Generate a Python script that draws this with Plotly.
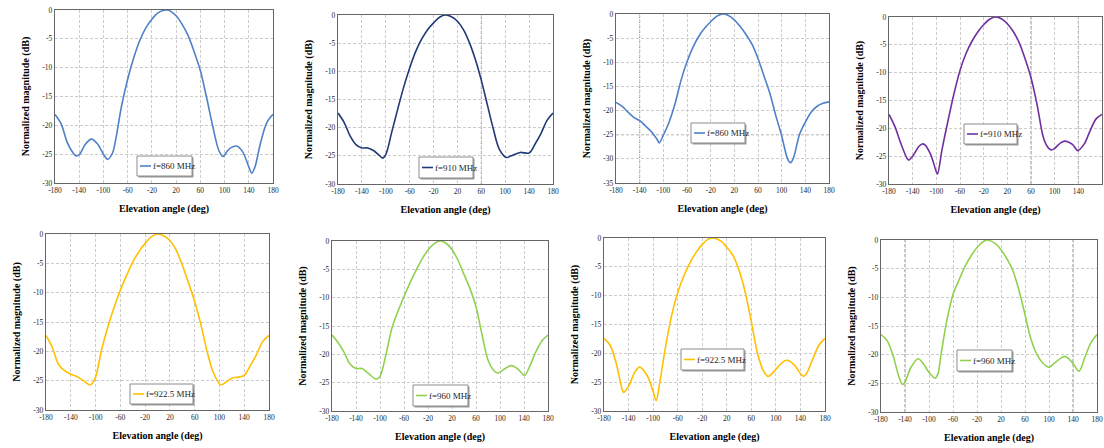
import plotly.graph_objects as go

W, H = 1104, 448

# Elevation-plane radiation patterns, normalized magnitude in dB
x_tick_vals = [-180, -140, -100, -60, -20, 20, 60, 100, 140, 180]
x_tick_text = ["-180", "-140", "-100", "-60", "-20", "20", "60", "100", "140", "180"]
y_tick_vals_30 = [0, -5, -10, -15, -20, -25, -30]
y_tick_text_30 = ["0", "-5", "-10", "-15", "-20", "-25", "-30"]
y_tick_vals_35 = [0, -5, -10, -15, -20, -25, -30, -35]
y_tick_text_35 = ["0", "-5", "-10", "-15", "-20", "-25", "-30", "-35"]

labels = ["f=860 MHz", "f=910 MHz", "f=860 MHz", "f=910 MHz",
          "f=922.5 MHz", "f=960 MHz", "f=922.5 MHz", "f=960 MHz"]
colors = ["#4F81C8", "#1F3A78", "#4F81C8", "#7030A0",
          "#FFC000", "#92D050", "#FFC000", "#92D050"]

angle_a = [-180, -170, -160, -150, -145, -140, -130, -120, -110, -100, -93, -85, -80, -70, -60, -50,
           -40, -30, -20, -10, 0, 5, 10, 20, 30, 40, 50, 60, 70, 80, 90, 97, 105, 110, 120, 130,
           140, 145, 150, 160, 170, 180]
mag_a = [-18.1, -19.7, -22.9, -24.8, -25.3, -25.1, -23.3, -22.4, -23.2, -25.0, -25.9, -24.8, -22.6,
         -16.6, -12.0, -8.3, -5.3, -3.1, -1.6, -0.5, -0.05, 0.0, -0.15, -1.0, -2.5, -4.5, -7.3,
         -10.5, -15.0, -19.9, -24.2, -25.4, -24.4, -23.9, -23.6, -24.6, -27.2, -28.3, -27.3,
         -22.8, -19.5, -18.1]

angle_b = [-180, -170, -160, -150, -140, -130, -120, -110, -105, -100, -90, -80, -70, -60, -50,
           -40, -30, -20, -10, 0, 10, 20, 30, 40, 50, 60, 70, 80, 90, 102, 110, 125, 140, 150,
           160, 170, 180]
mag_b = [-17.4, -19.0, -21.4, -23.0, -23.6, -23.6, -24.1, -25.0, -25.4, -24.8, -20.8, -16.7,
         -12.8, -9.4, -6.5, -4.3, -2.6, -1.4, -0.4, 0.0, -0.3, -1.1, -2.6, -4.9, -7.9, -11.6,
         -15.9, -20.2, -23.8, -25.3, -25.0, -24.4, -24.5, -22.9, -21.0, -18.7, -17.4]

angle_c = [-180, -170, -160, -150, -140, -130, -120, -110, -107, -100, -90, -80, -70, -60, -50,
           -40, -30, -20, -10, 0, 10, 20, 30, 40, 50, 60, 70, 80, 90, 100, 105, 110, 115, 120,
           130, 140, 150, 160, 170, 180]
mag_c = [-18.3, -19.1, -20.3, -21.4, -22.1, -23.2, -24.4, -26.1, -26.7, -25.1, -22.3, -18.5,
         -13.7, -9.9, -6.9, -4.6, -2.9, -1.6, -0.5, 0.0, -0.3, -1.2, -2.6, -4.3, -6.3, -9.2,
         -12.8, -16.4, -21.0, -25.2, -27.8, -30.0, -30.8, -29.8, -25.0, -22.4, -20.3, -19.1,
         -18.5, -18.2]

angle_d = [-180, -170, -160, -150, -147, -140, -130, -124, -120, -110, -100, -98, -90, -80, -70,
           -60, -50, -40, -30, -20, -10, 0, 10, 20, 30, 40, 50, 60, 70, 80, 85, 90, 95, 100,
           110, 117, 130, 139, 150, 160, 170, 180]
mag_d = [-17.5, -19.7, -22.7, -25.3, -25.7, -25.0, -23.3, -22.8, -22.9, -24.6, -27.8, -28.2,
         -23.6, -18.5, -13.7, -9.6, -6.6, -4.4, -2.7, -1.4, -0.4, 0.0, -0.3, -1.2, -2.6, -4.6,
         -7.5, -10.9, -15.6, -21.3, -22.8, -23.6, -23.9, -23.6, -22.6, -22.3, -22.9, -24.0,
         -22.8, -20.4, -18.3, -17.5]

angle_e = [-180, -170, -160, -150, -140, -130, -120, -108, -100, -94, -90, -80, -70, -60, -50,
           -40, -30, -20, -10, 0, 10, 20, 30, 40, 50, 60, 70, 80, 90, 102, 110, 120, 130, 140,
           150, 160, 170, 180]
mag_e = [-17.3, -19.3, -22.2, -23.3, -23.9, -24.3, -25.0, -25.7, -24.4, -21.6, -19.6, -15.8,
         -12.5, -9.6, -7.1, -4.8, -3.0, -1.6, -0.5, 0.0, -0.3, -1.1, -2.7, -5.3, -8.3, -11.5,
         -15.4, -20.0, -23.6, -25.7, -25.3, -24.6, -24.4, -24.1, -22.4, -20.5, -18.3, -17.3]

angle_f = [-180, -170, -160, -150, -140, -130, -120, -106, -100, -90, -80, -70, -60, -50, -40,
           -30, -20, -10, 0, 10, 20, 30, 40, 50, 60, 70, 80, 90, 96, 110, 119, 130, 141, 150,
           160, 170, 180]
mag_f = [-16.6, -17.9, -19.6, -21.7, -22.5, -22.5, -23.3, -24.4, -23.9, -20.0, -15.3, -12.4,
         -9.8, -7.4, -5.2, -3.2, -1.6, -0.5, 0.0, -0.4, -1.5, -3.4, -5.9, -8.4, -11.6, -16.5,
         -21.0, -22.9, -23.3, -22.4, -22.0, -22.6, -23.7, -22.0, -19.5, -17.6, -16.6]

angle_g = [-180, -170, -160, -150, -148, -140, -130, -122, -110, -100, -95, -90, -80, -70, -60,
           -50, -40, -30, -20, -10, -3, 10, 20, 30, 40, 50, 60, 70, 80, 87, 100, 110, 118, 130,
           140, 145, 150, 160, 170, 180]
mag_g = [-17.4, -18.6, -21.8, -26.4, -26.8, -25.7, -23.3, -22.4, -23.8, -26.6, -28.2, -25.6,
         -19.0, -13.5, -9.5, -6.6, -4.3, -2.5, -1.1, -0.2, 0.0, -0.5, -1.6, -3.0, -5.6, -9.4,
         -14.5, -20.0, -23.1, -24.0, -22.8, -21.6, -21.2, -22.0, -23.5, -24.0, -23.5, -21.0,
         -18.6, -17.4]

angle_h = [-180, -170, -160, -150, -144, -140, -130, -118, -110, -100, -90, -85, -80, -70, -60,
           -50, -40, -30, -20, -10, -3, 10, 20, 30, 40, 50, 60, 65, 70, 80, 90, 100, 110, 120, 127,
           140, 150, 160, 170, 180]
mag_h = [-16.5, -17.5, -20.1, -23.9, -25.2, -24.8, -22.2, -20.7, -21.5, -23.1, -24.1, -23.3,
         -20.0, -13.9, -9.5, -7.0, -4.6, -2.8, -1.3, -0.3, 0.0, -0.6, -1.7, -3.3, -5.4, -8.8,
         -13.0, -15.3, -17.3, -20.0, -21.5, -22.2, -21.4, -20.6, -20.3, -21.5, -22.9, -20.4,
         -17.9, -16.5]

angles = [angle_a, angle_b, angle_c, angle_d, angle_e, angle_f, angle_g, angle_h]
mags = [mag_a, mag_b, mag_c, mag_d, mag_e, mag_f, mag_g, mag_h]
y_floor = [-30, -30, -35, -30, -30, -30, -30, -30]

# Panel placement in pixels: plot area (left, right, top, bottom) and legend box (left, top, right, bottom)
plot_px = [(55, 273, 10, 183), (338, 553, 15, 184), (616, 829, 14, 183), (889, 1102, 17, 184),
           (46, 269, 234, 410), (332, 548, 241, 411), (604, 825, 238, 411), (881, 1097, 240, 412)]
legend_px = [(137, 156, 192, 176), (419, 157, 473, 178), (691, 123, 745, 143), (964, 124, 1017, 144),
             (130, 384, 193, 404), (413, 385, 468, 406), (681, 349, 744, 370), (957, 350, 1012, 371)]
# Emphasised (darker) reference grid lines per panel: ("x" or "y", value)
ref_lines = [[], [("x", 60)], [("x", -140), ("y", -25)], [("x", 60), ("x", 140)],
             [], [], [], [("x", -140), ("x", 140)]]

FONT = "Liberation Serif"
GRID_DASH = "3px,2px"


def px_x(p):
    return p / W


def px_y(p):
    return 1 - p / H


fig = go.Figure()
layout = dict(
    width=W, height=H, margin=dict(l=0, r=0, t=0, b=0),
    paper_bgcolor="white", plot_bgcolor="white", showlegend=False,
    font=dict(family=FONT, color="#262626"),
)
shapes = []
annotations = []

for i in range(8):
    n = "" if i == 0 else str(i + 1)
    xa, ya = "x" + n, "y" + n
    fig.add_trace(go.Scatter(
        x=angles[i], y=mags[i], mode="lines", name=labels[i],
        line=dict(color=colors[i], width=1.6, shape="spline", smoothing=0.9),
        xaxis=xa, yaxis=ya, hoverinfo="x+y",
    ))
    l, r, t, b = plot_px[i]
    if y_floor[i] == -35:
        yv, yt = y_tick_vals_35, y_tick_text_35
    else:
        yv, yt = y_tick_vals_30, y_tick_text_30
    layout["xaxis" + n] = dict(
        domain=[px_x(l), px_x(r)], anchor=ya, range=[-180, 180],
        tickvals=x_tick_vals, ticktext=x_tick_text, tickfont=dict(size=7.5, family=FONT),
        showgrid=True, gridcolor="#CCCCCC", griddash=GRID_DASH, gridwidth=1,
        showline=True, mirror=True, linecolor="#666666", linewidth=1.4,
        zeroline=False, ticks="", automargin=False,
        title=dict(text="<b>Elevation angle (deg)</b>", font=dict(size=10, family=FONT, color="black"),
                   standoff=10),
    )
    layout["yaxis" + n] = dict(
        domain=[px_y(b), px_y(t)], anchor=xa, range=[y_floor[i], 0],
        tickvals=yv, ticktext=yt, tickfont=dict(size=7.5, family=FONT),
        showgrid=True, gridcolor="#CCCCCC", griddash=GRID_DASH, gridwidth=1,
        showline=True, mirror=True, linecolor="#666666", linewidth=1.4,
        zeroline=False, ticks="", automargin=False,
        title=dict(text="<b>Normalized magnitude (dB)</b>", font=dict(size=10, family=FONT, color="black"),
                   standoff=10),
    )
    for kind, val in ref_lines[i]:
        if kind == "x":
            shapes.append(dict(type="line", xref=xa, yref=ya + " domain", x0=val, x1=val, y0=0, y1=1,
                               line=dict(color="#8C8C8C", width=1, dash=GRID_DASH), layer="below"))
        else:
            shapes.append(dict(type="line", xref=xa + " domain", yref=ya, x0=0, x1=1, y0=val, y1=val,
                               line=dict(color="#8C8C8C", width=1, dash=GRID_DASH), layer="below"))

    # Legend box with line sample and label
    bx0, by0, bx1, by1 = legend_px[i]
    shapes.append(dict(type="rect", xref="paper", yref="paper",
                       x0=px_x(bx0 + 1.5), x1=px_x(bx1 + 1.5), y0=px_y(by1 + 1.5), y1=px_y(by0 + 1.5),
                       line=dict(width=0), fillcolor="#9A9A9A", layer="above"))
    shapes.append(dict(type="rect", xref="paper", yref="paper",
                       x0=px_x(bx0), x1=px_x(bx1), y0=px_y(by1), y1=px_y(by0),
                       line=dict(color="#8C8C8C", width=1), fillcolor="white", layer="above"))
    ym = (by0 + by1) / 2
    shapes.append(dict(type="line", xref="paper", yref="paper",
                       x0=px_x(bx0 + 3), x1=px_x(bx0 + 14), y0=px_y(ym), y1=px_y(ym),
                       line=dict(color=colors[i], width=1.6), layer="above"))
    annotations.append(dict(xref="paper", yref="paper", x=px_x(bx0 + 14), y=px_y(ym),
                            xanchor="left", yanchor="middle", showarrow=False, text=labels[i],
                            font=dict(size=9, family=FONT, color="#262626")))

layout["shapes"] = shapes
layout["annotations"] = annotations
fig.update_layout(**layout)
fig.write_html("out.html")
